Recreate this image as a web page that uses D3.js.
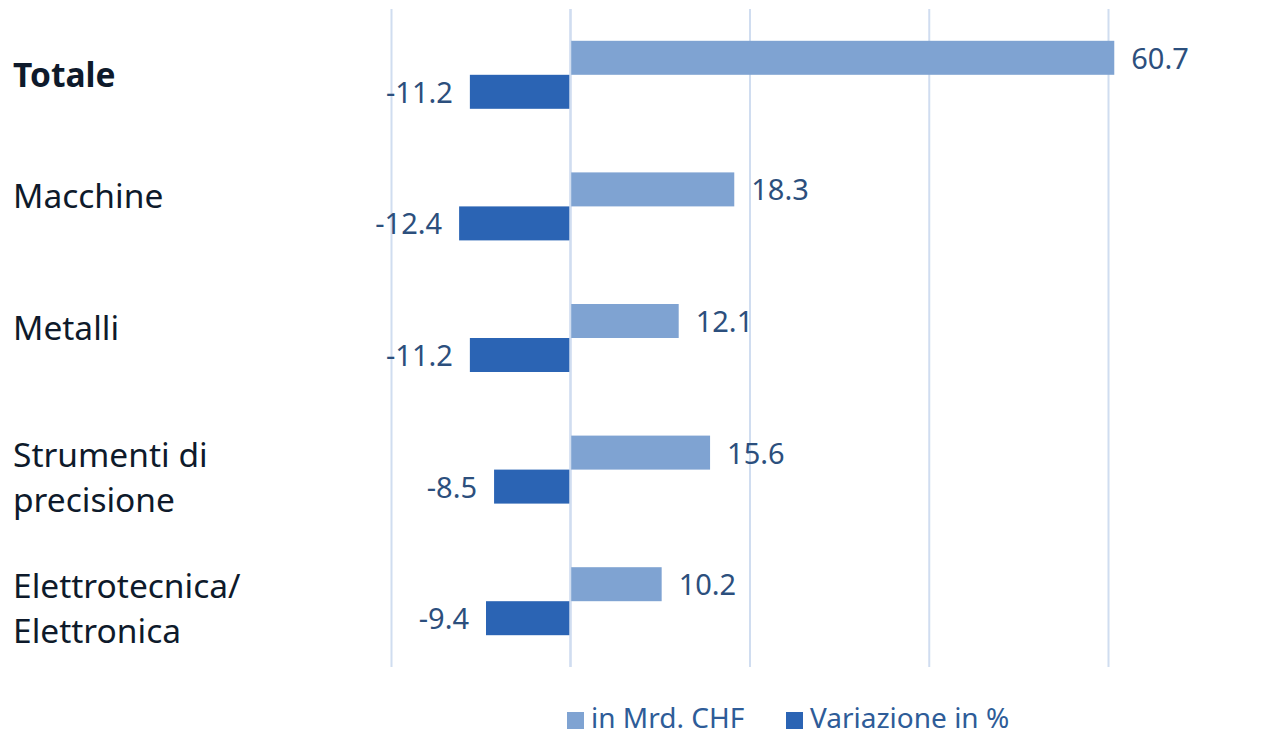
<!DOCTYPE html>
<html>
<head>
<meta charset="utf-8">
<script src="https://cdn.jsdelivr.net/npm/d3@7"></script>
<style>
  html, body { margin: 0; padding: 0; background: #ffffff; }
  svg { display: block; font-family: "Noto Sans", "Open Sans", sans-serif; }
</style>
</head>
<body>
<svg id="chart" width="1278" height="740"></svg>
<script>
// ---- data ----
const categories = [
  ["Totale"],
  ["Macchine"],
  ["Metalli"],
  ["Strumenti di", "precisione"],
  ["Elettrotecnica/", "Elettronica"]
];
const boldCategory = "Totale";
const valuesCHF = [60.7, 18.3, 12.1, 15.6, 10.2];
const valuesPct = [-11.2, -12.4, -11.2, -8.5, -9.4];
const gridTicks = [-20, 0, 20, 40, 60, 80];
const seriesNames = ["in Mrd. CHF", "Variazione in %"];
const seriesColors = ["#7fa3d2", "#2b64b4"];

// ---- layout ----
const W = 1278, H = 740;
const plot = { left: 391, right: 391 + 5 * 179.25, top: 9, bottom: 667 };
const svg = d3.select("#chart");

const x = d3.scaleLinear().domain([-20, 80]).range([plot.left, plot.right]);
const y = d3.scaleBand().domain(d3.range(categories.length)).range([plot.top, plot.bottom]).paddingInner(0).paddingOuter(0);
const barH = 34;

// gridlines via axis
const gridAxis = d3.axisBottom(x).tickValues(gridTicks).tickSize(-(plot.bottom - plot.top)).tickFormat("");
const g = svg.append("g").attr("transform", `translate(0,${plot.bottom})`).call(gridAxis);
g.select(".domain").remove();
g.selectAll(".tick line").attr("stroke", "#d0ddf0").attr("stroke-width", 2);

// bars
const rows = categories.map((c, i) => ({ i, chf: valuesCHF[i], pct: valuesPct[i] }));

svg.append("g").selectAll("rect.chf").data(rows).join("rect")
  .attr("x", d => x(0)).attr("width", d => x(d.chf) - x(0))
  .attr("y", d => y(d.i) + y.bandwidth() / 2 - barH).attr("height", barH)
  .attr("fill", seriesColors[0]);

svg.append("g").selectAll("rect.pct").data(rows).join("rect")
  .attr("x", d => x(d.pct)).attr("width", d => x(0) - x(d.pct))
  .attr("y", d => y(d.i) + y.bandwidth() / 2).attr("height", barH)
  .attr("fill", seriesColors[1]);

// zero line on top
svg.append("line").attr("x1", x(0)).attr("x2", x(0)).attr("y1", plot.top).attr("y2", plot.bottom)
  .attr("stroke", "#d0ddf0").attr("stroke-width", 2);

// value labels (hyphen minus as in reference)
const fmt = v => d3.format(".1f")(v).replace("\u2212", "-");
const labelColor = "#2c4f7d";
svg.append("g").selectAll("text").data(rows).join("text")
  .attr("x", d => x(d.chf) + 17)
  .attr("y", d => y(d.i) + y.bandwidth() / 2 - barH / 2)
  .attr("dy", "0.38em")
  .attr("font-size", 29).attr("fill", labelColor)
  .text(d => fmt(d.chf));

svg.append("g").selectAll("text").data(rows).join("text")
  .attr("x", d => x(d.pct) - 17)
  .attr("y", d => y(d.i) + y.bandwidth() / 2 + barH / 2)
  .attr("dy", "0.38em")
  .attr("text-anchor", "end")
  .attr("font-size", 29).attr("fill", labelColor)
  .text(d => fmt(d.pct));

// category labels
const lineH = 45;
const catG = svg.append("g");
categories.forEach((lines, i) => {
  const c = y(i) + y.bandwidth() / 2;
  const bold = lines[0] === boldCategory;
  const first = bold ? c : (lines.length > 1 ? c - 15 : c - 10);
  const t = catG.append("text")
    .attr("x", 13)
    .attr("font-size", 33.5)
    .attr("font-weight", bold ? 700 : 400)
    .attr("fill", "#0e1a2b");
  lines.forEach((ln, k) => {
    t.append("tspan").attr("x", 13).attr("y", first + k * lineH).attr("dy", "0.36em").text(ln);
  });
});

// legend
const legend = svg.append("g");
const legendItems = [
  { name: seriesNames[0], color: seriesColors[0], x: 567 },
  { name: seriesNames[1], color: seriesColors[1], x: 786 }
];
legendItems.forEach(it => {
  legend.append("rect").attr("x", it.x).attr("y", 712).attr("width", 17).attr("height", 17).attr("fill", it.color);
  legend.append("text").attr("x", it.x + 24).attr("y", 728)
    .attr("font-size", 28).attr("fill", "#2e5c98").text(it.name);
});
</script>
</body>
</html>
